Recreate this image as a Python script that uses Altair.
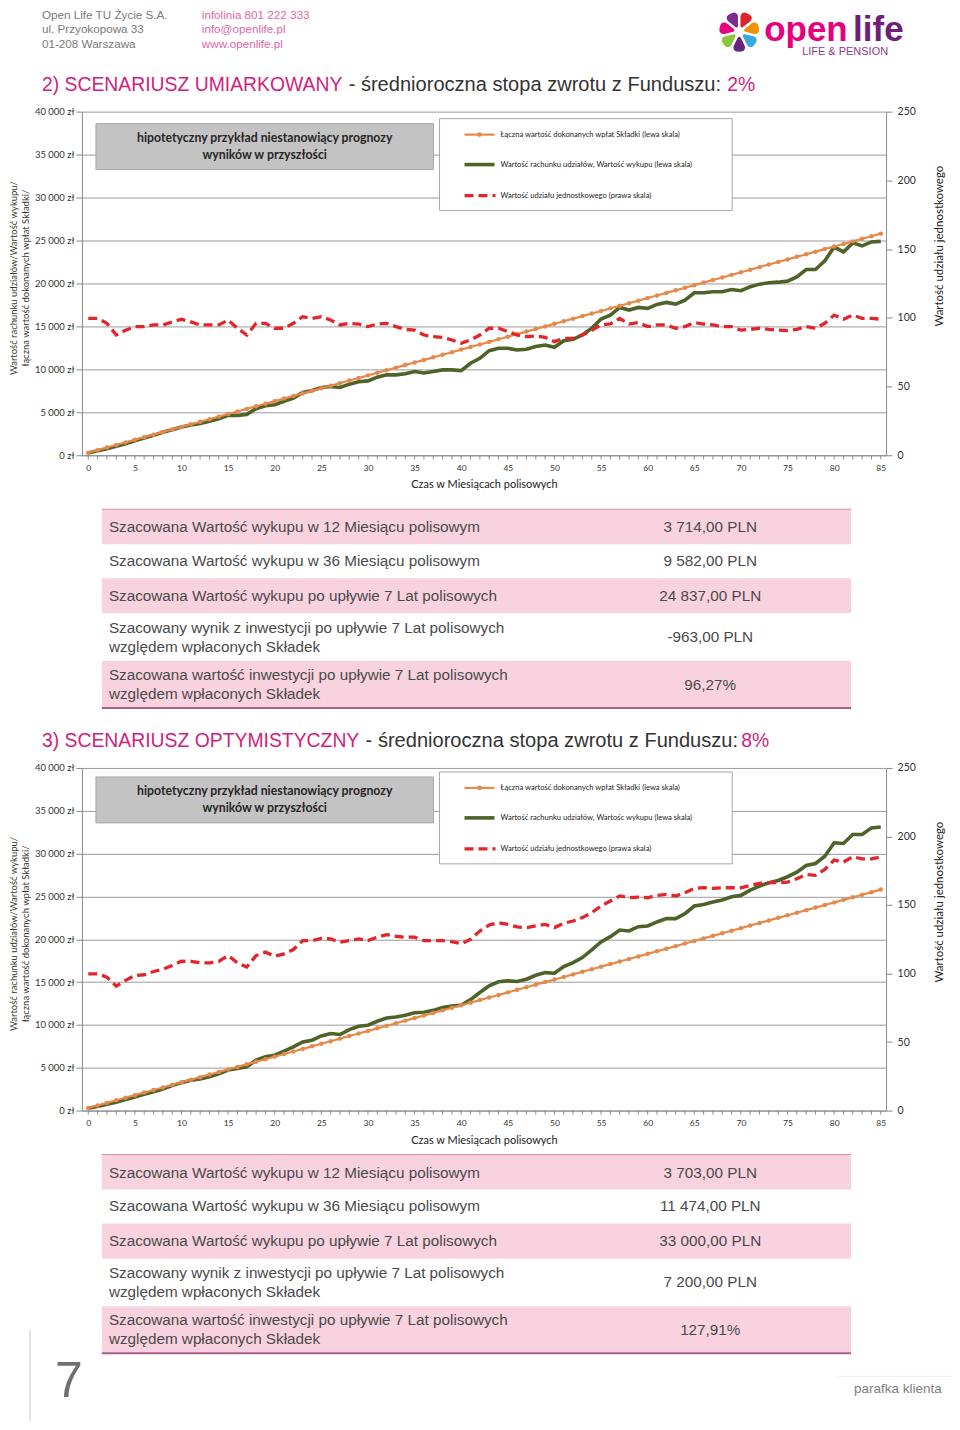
import altair as alt
import pandas as pd

# ---------------- data ----------------
miesiace = list(range(86))

wplaty = [300, 600, 900, 1200, 1500, 1800, 2100, 2400, 2700, 3000,
          3300, 3600, 3900, 4200, 4500, 4800, 5100, 5400, 5700, 6000,
          6300, 6600, 6900, 7200, 7500, 7800, 8100, 8400, 8700, 9000,
          9300, 9600, 9900, 10200, 10500, 10800, 11100, 11400, 11700, 12000,
          12300, 12600, 12900, 13200, 13500, 13800, 14100, 14400, 14700, 15000,
          15300, 15600, 15900, 16200, 16500, 16800, 17100, 17400, 17700, 18000,
          18300, 18600, 18900, 19200, 19500, 19800, 20100, 20400, 20700, 21000,
          21300, 21600, 21900, 22200, 22500, 22800, 23100, 23400, 23700, 24000,
          24300, 24600, 24900, 25200, 25500, 25800]

wartosc_umiark = [270, 540, 770, 1040, 1350, 1700, 2010, 2320, 2670, 2980,
                  3290, 3520, 3714, 3950, 4250, 4640, 4640, 4760, 5420, 5760,
                  5880, 6270, 6650, 7310, 7540, 7890, 8010, 7890, 8280, 8550,
                  8660, 9090, 9360, 9360, 9480, 9750, 9582, 9750, 9940, 9940,
                  9860, 10710, 11290, 12180, 12450, 12450, 12260, 12340, 12650, 12840,
                  12570, 13340, 13500, 14000, 14780, 15860, 16320, 17210, 16900, 17210,
                  17100, 17560, 17790, 17600, 18060, 18910, 18910, 19030, 19030, 19300,
                  19150, 19610, 19920, 20080, 20150, 20270, 20770, 21620, 21620, 22630,
                  24250, 23670, 24720, 24370, 24837, 24900]

udzial_umiark = [99.6, 99.6, 96, 87.5, 91, 93.6, 93.6, 94.8, 94.8, 97,
                 99, 97, 94.8, 94.8, 94.8, 98.4, 92.4, 87.5, 96, 96,
                 92.4, 92.4, 96, 100.8, 99.6, 100.8, 98.4, 94.8, 96, 95.5,
                 93.6, 95.5, 96, 93.6, 91.6, 91, 87.5, 86.3, 85.8, 83.9,
                 81.5, 83.9, 87.5, 92.4, 92.4, 90, 87.5, 86.3, 86.8, 85.8,
                 82.7, 85.1, 85.1, 87.5, 91, 94.8, 95.5, 99.6, 95.5, 96.5,
                 93.6, 94.8, 94.8, 92.4, 93.6, 96.5, 95.5, 94.8, 93.6, 93.6,
                 91, 91.6, 92.4, 91.6, 91, 90.7, 91.6, 93.6, 92.4, 96,
                 102, 99, 102, 99.6, 99.6, 99]

wartosc_optym = [270, 470, 740, 970, 1280, 1590, 1900, 2210, 2520, 2910,
                 3260, 3530, 3703, 3950, 4300, 4730, 4920, 5120, 5890, 6280,
                 6470, 6940, 7440, 8020, 8220, 8720, 8990, 8880, 9460, 9850,
                 9960, 10430, 10810, 10930, 11120, 11430, 11474, 11700, 12020, 12210,
                 12300, 12950, 13780, 14560, 15030, 15140, 15070, 15340, 15800, 16110,
                 16040, 16810, 17280, 17860, 18750, 19690, 20310, 21080, 20970, 21470,
                 21550, 22020, 22410, 22410, 22990, 23880, 24070, 24350, 24580, 24970,
                 25120, 25740, 26210, 26600, 26870, 27300, 27840, 28620, 28850, 29700,
                 31260, 31180, 32230, 32230, 33000, 33100]

udzial_optym = [99.8, 99.8, 97.4, 90.8, 95, 98.6, 99.1, 101.5, 103, 105.9,
                109, 108.8, 107.8, 107.8, 108.8, 113.1, 107.8, 104.7, 113.1, 115.6,
                112.6, 114.3, 117.5, 124, 124, 125.7, 125.2, 122.8, 124, 125.2,
                124, 126.5, 128.4, 127.2, 126.5, 126.5, 124, 124, 124, 123.3,
                121.7, 125, 131, 135.4, 137.1, 135.9, 134, 133.5, 134.7, 135.9,
                133.5, 136.7, 138.3, 140.8, 144.4, 149.3, 152.9, 156.6, 155.3, 155.8,
                155.3, 157, 157.8, 156.6, 159, 162.1, 162.6, 162.1, 162.6, 162.6,
                162.6, 164.3, 165.8, 166.3, 166.3, 166.7, 169.2, 172.3, 171.6, 176,
                182.8, 181.3, 185.2, 183.7, 183.7, 185]

opisy_tabeli = [
    ["Szacowana Wartość wykupu w 12 Miesiącu polisowym"],
    ["Szacowana Wartość wykupu w 36 Miesiącu polisowym"],
    ["Szacowana Wartość wykupu po upływie 7 Lat polisowych"],
    ["Szacowany wynik z inwestycji po upływie 7 Lat polisowych", "względem wpłaconych Składek"],
    ["Szacowana wartość inwestycji po upływie 7 Lat polisowych", "względem wpłaconych Składek"],
]
wartosci_umiark = ["3 714,00 PLN", "9 582,00 PLN", "24 837,00 PLN", "-963,00 PLN", "96,27%"]
wartosci_optym = ["3 703,00 PLN", "11 474,00 PLN", "33 000,00 PLN", "7 200,00 PLN", "127,91%"]

legenda_1 = ["Łączna wartość dokonanych wpłat Składki (lewa skala)",
             "Wartość rachunku udziałów, Wartość wykupu (lewa skala)",
             "Wartość udziału jednostkowego (prawa skala)"]
legenda_2 = ["Łączna wartość dokonanych wpłat Składki (lewa skala)",
             "Wartość rachunku udziałów, Wartośc wykupu (lewa skala)",
             "Wartość udziału jednostkowego (prawa skala)"]

# ---------------- style ----------------
FC = "Lato"
FS = "Liberation Sans"
ORANGE = "#E5894A"
GREEN = "#4F6228"
RED = "#E3242B"
PINK = "#D31D7C"
PINK_LIGHT = "#E466A6"
GRAY_TXT = "#7a7a7a"
ROW_PINK = "#F8D2DF"

CH_W = 805
PLOT_LEFT = 82          # page x of the charts' plot area
ONE = pd.DataFrame({"v": [0]})


def scenario_chart(green, red, height, legend_texts, off):
    df = pd.DataFrame({"m": miesiace, "wplaty": wplaty, "wartosc": green, "udzial": red})
    base = alt.Chart(df)
    xs = alt.Scale(domain=[-0.68, 85.57], nice=False, zero=False)
    xaxis = alt.Axis(values=list(range(0, 86, 5)), title="Czas w Miesiącach polisowych",
                     grid=False, ticks=False, domainColor="#8a8a8a",
                     labelFont=FC, labelFontSize=8.5, labelColor="#333", labelPadding=8,
                     titleFont=FC, titleFontSize=11, titleFontWeight="normal",
                     titleColor="#222", titlePadding=7)
    X = alt.X("m:Q", scale=xs, axis=xaxis)
    ls = alt.Scale(domain=[0, 40000], nice=False)
    laxis = alt.Axis(values=list(range(0, 40001, 5000)),
                     labelExpr="replace(format(datum.value, ',d'), ',', ' ') + ' zł'",
                     grid=True, gridColor="#9a9a9a", gridWidth=1,
                     tickSize=6, tickColor="#8a8a8a", domainColor="#8a8a8a",
                     labelFont=FC, labelFontSize=9.5, labelColor="#333", labelPadding=2,
                     title=["Wartość rachunku udziałów/Wartość wykupu/",
                            "łączna wartość dokonanych wpłat Składki/"],
                     titleFont=FC, titleFontSize=9.5, titleFontWeight="normal",
                     titleColor="#333", titleAngle=270, titleAlign="center",
                     titleBaseline="top", titleX=-73, titleY=height * 0.483,
                     titleLineHeight=12)
    rs = alt.Scale(domain=[0, 250], nice=False)
    raxis = alt.Axis(orient="right", values=[0, 50, 100, 150, 200, 250], grid=False,
                     tickSize=6, tickColor="#8a8a8a", domainColor="#8a8a8a",
                     labelFont=FC, labelFontSize=10.5, labelColor="#333", labelPadding=5,
                     title="Wartość udziału jednostkowego", titleFont=FC, titleFontSize=11.5,
                     titleFontWeight="normal", titleColor="#222", titleAngle=270,
                     titleAlign="center", titleBaseline="middle", titleX=53,
                     titleY=height * 0.39)

    minor = base.mark_rule(color="#8a8a8a", strokeWidth=1).encode(
        x=alt.X("m:Q", scale=xs, axis=xaxis), y=alt.value(height), y2=alt.value(height + 4))
    g_line = base.mark_line(color=GREEN, strokeWidth=3.6).encode(
        X, alt.Y("wartosc:Q", scale=ls, axis=laxis))
    o_line = base.mark_line(color=ORANGE, strokeWidth=2.2,
                            point=alt.OverlayMarkDef(color=ORANGE, filled=True, size=20, opacity=1)).encode(
        X, alt.Y("wplaty:Q", scale=ls, axis=laxis))
    left = alt.layer(minor, g_line, o_line)
    r_line = base.mark_line(color=RED, strokeWidth=3.3, strokeDash=[9, 5]).encode(
        X, alt.Y("udzial:Q", scale=rs, axis=raxis))

    one = alt.Chart(ONE)
    deco = []
    deco.append(one.mark_rect(fill="#C3C3C3", stroke="#A8A8A8", strokeWidth=1).encode(
        x=alt.value(14), x2=alt.value(352), y=alt.value(12 + off), y2=alt.value(58 + off)))
    deco.append(one.mark_text(text="hipotetyczny przykład niestanowiący prognozy", font=FC,
                              fontWeight="bold", fontSize=12.3, color="#262626",
                              align="center", baseline="middle").encode(
        x=alt.value(183), y=alt.value(26 + off)))
    deco.append(one.mark_text(text="wyników w przyszłości", font=FC, fontWeight="bold",
                              fontSize=12.3, color="#262626", align="center",
                              baseline="middle").encode(x=alt.value(183), y=alt.value(43 + off)))
    deco.append(one.mark_rect(fill="white", stroke="#A8A8A8", strokeWidth=1).encode(
        x=alt.value(358), x2=alt.value(651), y=alt.value(7 + off), y2=alt.value(99 + off)))
    ly = [23 + off, 53 + off, 84 + off]
    deco.append(one.mark_rule(color=ORANGE, strokeWidth=2.2).encode(
        x=alt.value(383), x2=alt.value(413), y=alt.value(ly[0])))
    deco.append(one.mark_point(color=ORANGE, filled=True, size=22, opacity=1).encode(
        x=alt.value(398), y=alt.value(ly[0])))
    deco.append(one.mark_rule(color=GREEN, strokeWidth=3.6).encode(
        x=alt.value(383), x2=alt.value(413), y=alt.value(ly[1])))
    deco.append(one.mark_rule(color=RED, strokeWidth=3.3, strokeDash=[9, 5]).encode(
        x=alt.value(383), x2=alt.value(414), y=alt.value(ly[2])))
    for i, t in enumerate(legend_texts):
        deco.append(one.mark_text(text=t, font=FC, fontSize=7.6, color="#222", align="left",
                                  baseline="middle").encode(x=alt.value(419), y=alt.value(ly[i])))

    return alt.layer(left, r_line, *deco).resolve_scale(y="independent").properties(
        width=CH_W, height=height)


# decorative panels share the charts' left edge; their x scale is in page pixels
DECO_W = 952 - PLOT_LEFT
XS = alt.Scale(domain=[PLOT_LEFT, 952], nice=False, zero=False)


def YS(y0, y1):
    return alt.Scale(domain=[y0, y1], reverse=True, nice=False, zero=False)


def txt(rows, sc, align="left", font=FS, weight="normal"):
    df = pd.DataFrame(rows, columns=["x", "y", "t", "c", "s"])
    return alt.Chart(df).mark_text(align=align, baseline="middle", font=font,
                                   fontWeight=weight).encode(
        x=alt.X("x:Q", scale=XS, axis=None), y=alt.Y("y:Q", scale=sc, axis=None),
        text="t:N", color=alt.Color("c:N", scale=None), size=alt.Size("s:Q", scale=None))


def rects(rows, sc, opacity=1):
    df = pd.DataFrame(rows, columns=["x", "x2", "y", "y2", "c"])
    return alt.Chart(df).mark_rect(opacity=opacity).encode(
        x=alt.X("x:Q", scale=XS, axis=None), x2="x2:Q",
        y=alt.Y("y:Q", scale=sc, axis=None), y2="y2:Q",
        color=alt.Color("c:N", scale=None))


def hrules(rows, sc):
    df = pd.DataFrame(rows, columns=["x", "x2", "y", "c", "w"])
    return alt.Chart(df).mark_rule().encode(
        x=alt.X("x:Q", scale=XS, axis=None), x2="x2:Q",
        y=alt.Y("y:Q", scale=sc, axis=None),
        color=alt.Color("c:N", scale=None), size=alt.Size("w:Q", scale=None))


def table_layers(T, values, sc):
    rr = [[102, 852, T, T + 35, ROW_PINK], [102, 852, T + 69, T + 104, ROW_PINK],
          [102, 852, T + 152, T + 199, ROW_PINK]]
    lines = [[102, 852, T, "#D98CAE", 1], [102, 852, T + 199, "#A8608A", 2]]
    ys_left = [[T + 18], [T + 52], [T + 87], [T + 119, T + 138], [T + 166, T + 185]]
    ys_val = [T + 18, T + 52, T + 87, T + 128, T + 176]
    lt = []
    for lines_txt, yy in zip(opisy_tabeli, ys_left):
        for t, y in zip(lines_txt, yy):
            lt.append([109, y, t, "#4a4a4a", 15.3])
    vt = [[711, y, v, "#4a4a4a", 15.3] for v, y in zip(values, ys_val)]
    return [rects(rr, sc), hrules(lines, sc), txt(lt, sc), txt(vt, sc, align="center")]


def title_layers(y, seg1, x2, seg3, x3, sc):
    return [txt([[42, y, seg1, PINK, 19.4]], sc),
            txt([[x2, y, "- średnioroczna stopa zwrotu z Funduszu:", "#333333", 20.1]], sc),
            txt([[x3, y, seg3, PINK, 19.4]], sc)]


# ---- panel A : header + title 1 ----
A0, A1 = 8, 111
scA = YS(A0, A1)
anchor = rects([[8, 9, 60, 61, "white"]], scA, opacity=0)
header = txt([[42, 14, "Open Life TU Życie S.A.", GRAY_TXT, 11.7],
              [42, 28.5, "ul. Przyokopowa 33", GRAY_TXT, 11.7],
              [42, 43, "01-208 Warszawa", GRAY_TXT, 11.7],
              [202, 14, "infolinia 801 222 333", PINK_LIGHT, 11.7],
              [202, 28.5, "info@openlife.pl", PINK_LIGHT, 11.7],
              [202, 43, "www.openlife.pl", PINK_LIGHT, 11.7]], scA)
petals = pd.DataFrame({"k": list(range(7)), "v": [1] * 7,
                       "c": ["#D9262F", "#F39200", "#36A9E1", "#662483", "#8CC63F",
                             "#E6007E", "#7B2C8E"]})
flower = alt.Chart(petals).mark_arc(radius=20, radius2=5, padAngle=0.12, cornerRadius=4).encode(
    theta=alt.Theta("v:Q", stack=True), order=alt.Order("k:Q"),
    color=alt.Color("c:N", scale=None), x=alt.value(740 - PLOT_LEFT), y=alt.value(31 - A0))
logo_open = txt([[765, 29, "open", "#E5007D", 35]], scA, weight="bold")
logo_life = txt([[854, 29, "life", "#6D2077", 35]], scA, weight="bold")
logo_sub = txt([[803, 51.5, "LIFE & PENSION", "#8A3A8F", 11]], scA)
panelA = alt.layer(anchor, header, flower, logo_open, logo_life, logo_sub,
                   *title_layers(84, "2) SCENARIUSZ UMIARKOWANY", 349, "2%", 728, scA)).properties(
    width=DECO_W, height=A1 - A0)

# ---- chart 1 ----
chart1 = scenario_chart(wartosc_umiark, udzial_umiark, 344, legenda_1, 0)

# ---- panel C : table 1 + title 2 ----
C0, C1 = 455, 768
scC = YS(C0, C1)
panelC = alt.layer(*table_layers(509, wartosci_umiark, scC),
                   *title_layers(741, "3) SCENARIUSZ OPTYMISTYCZNY", 366, "8%", 742, scC)).properties(
    width=DECO_W, height=C1 - C0)

# ---- chart 2 ----
chart2 = scenario_chart(wartosc_optym, udzial_optym, 343, legenda_2, -3)

# ---- panel E : table 2 + footer ----
E0, E1 = 1111, 1422
scE = YS(E0, E1)
vline = pd.DataFrame({"x": [30], "y": [1330], "y2": [1422]})
footer_line = alt.Chart(vline).mark_rule(color="#C8C8C8", strokeWidth=1).encode(
    x=alt.X("x:Q", scale=XS, axis=None), y=alt.Y("y:Q", scale=scE, axis=None), y2="y2:Q")
panelE = alt.layer(*table_layers(1155, wartosci_optym, scE),
                   footer_line,
                   hrules([[838, 952, 1377, "#EEEEEE", 1]], scE),
                   txt([[55, 1383, "7", "#707070", 50]], scE),
                   txt([[855, 1390, "parafka klienta", "#808080", 13.5]], scE)).properties(
    width=DECO_W, height=E1 - E0)

chart = alt.vconcat(panelA, chart1, panelC, chart2, panelE, spacing=0, bounds="flush",
                    padding=0).configure_view(stroke=None)

chart.save("out.html", embed_options={"renderer": "svg", "actions": False})
